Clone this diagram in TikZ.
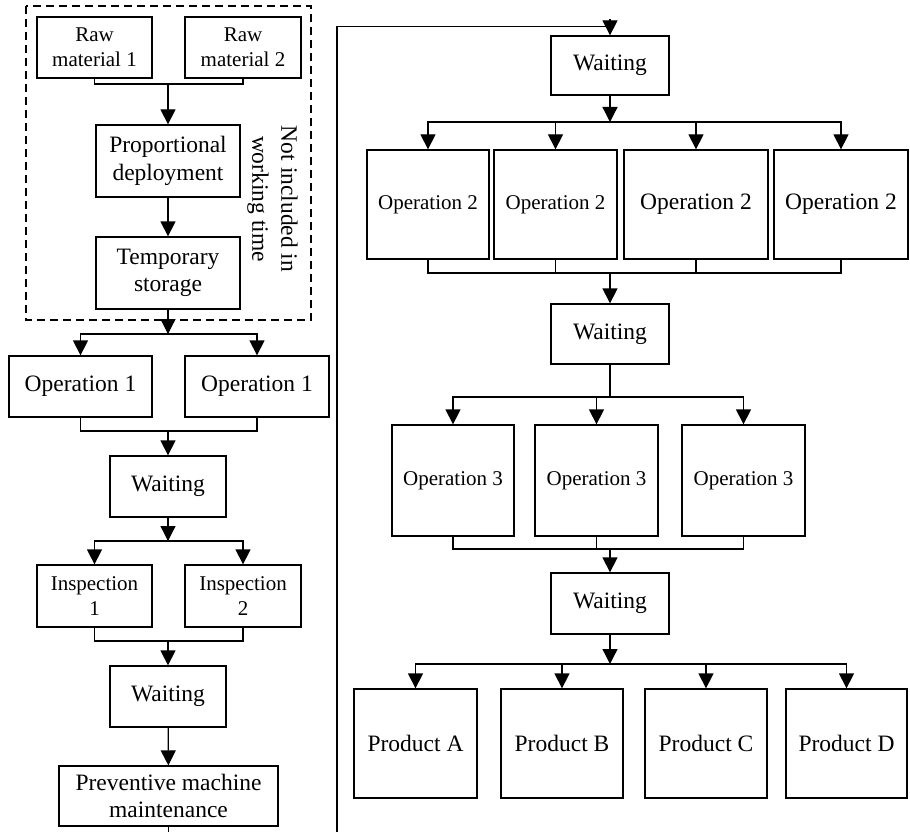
\documentclass[tikz,border=0pt]{standalone}
\usepackage{fontspec}
\setmainfont{Liberation Serif}
\usetikzlibrary{arrows.meta}
\tikzset{
  box/.style={draw, line width=1.3pt, inner sep=0pt, align=center, font=\fontsize{23.5}{27.5}\selectfont},
  narrow/.style={font=\fontsize{21}{25}\selectfont},
  line/.style={line width=1.3pt},
  arr/.style={line, -{Triangle[length=15pt,width=15pt]}},
  frame/.style={line width=1.1pt, dash pattern=on 8pt off 5pt}
}
\begin{document}
\begin{tikzpicture}[x=1pt, y=-1pt]
\path[fill=white] (0,0) rectangle (910,832);
\useasboundingbox (0,0) rectangle (910,832);

\node[box, narrow, minimum width=115, minimum height=61] (rm1) at (94.5,47.5) {Raw\\material 1};
\node[box, narrow, minimum width=116, minimum height=61] (rm2) at (243,47.5) {Raw\\material 2};
\node[box, minimum width=144, minimum height=72] (pd) at (168,161) {Proportional\\deployment};
\node[box, minimum width=144, minimum height=72] (ts) at (168,273) {Temporary\\storage};
\node[rotate=-90, align=center, font=\fontsize{23.5}{29}\selectfont] (note) at (272.5,199) {Not included in\\working time};
\draw[frame] (26,6) rectangle (311,320);
\node[box, minimum width=143, minimum height=61] (op1a) at (80.5,386.5) {Operation 1};
\node[box, minimum width=144, minimum height=61] (op1b) at (257,386.5) {Operation 1};
\node[box, minimum width=116, minimum height=61] (w1) at (168,486.5) {Waiting};
\node[box, narrow, minimum width=115, minimum height=62] (ins1) at (94.5,596) {Inspection\\1};
\node[box, narrow, minimum width=116, minimum height=62] (ins2) at (243,596) {Inspection\\2};
\node[box, minimum width=116, minimum height=61] (w2) at (168,696.5) {Waiting};
\node[box, minimum width=219, minimum height=60] (pm) at (168.5,796) {Preventive machine\\maintenance};

\node[box, minimum width=118, minimum height=59] (rw1) at (610,65.5) {Waiting};
\node[box, narrow, minimum width=122, minimum height=109] (o2a) at (428,204.5) {Operation 2};
\node[box, narrow, minimum width=123, minimum height=109] (o2b) at (555.5,204.5) {Operation 2};
\node[box, minimum width=144, minimum height=109] (o2c) at (696,204.5) {Operation 2};
\node[box, minimum width=134, minimum height=109] (o2d) at (841,204.5) {Operation 2};
\node[box, minimum width=118, minimum height=60] (rw2) at (610,334) {Waiting};
\node[box, narrow, minimum width=122, minimum height=111] (o3a) at (453,480.5) {Operation 3};
\node[box, narrow, minimum width=123, minimum height=111] (o3b) at (596.5,480.5) {Operation 3};
\node[box, narrow, minimum width=123, minimum height=111] (o3c) at (743.5,480.5) {Operation 3};
\node[box, minimum width=118, minimum height=61] (rw3) at (610,603.5) {Waiting};
\node[box, minimum width=123, minimum height=109] (pA) at (415.5,743.5) {Product A};
\node[box, minimum width=122, minimum height=109] (pB) at (562,743.5) {Product B};
\node[box, minimum width=122, minimum height=109] (pC) at (706,743.5) {Product C};
\node[box, minimum width=121, minimum height=109] (pD) at (846.5,743.5) {Product D};

\coordinate (m0) at (168,84);
\coordinate (s1) at (168,334);
\coordinate (m1) at (168,431);
\coordinate (s2) at (168,541);
\coordinate (m2) at (168,641);
\coordinate (loop) at (337,860);
\coordinate (feed) at ([yshift=9pt]rw1.north);
\coordinate (s3) at (610,122);
\coordinate (m3) at (610,273);
\coordinate (s4) at (610,397);
\coordinate (m4) at (610,549);
\coordinate (s5) at (610,664);

\draw[line] (rm1.south) |- (m0) -| (rm2.south);
\draw[arr] (m0) -- (pd.north);
\draw[arr] (pd) -- (ts);
\draw[arr] (ts.south) -- (s1);
\draw[arr] (s1) -| (op1a.north);
\draw[arr] (s1) -| (op1b.north);
\draw[line] (op1a.south) |- (m1) -| (op1b.south);
\draw[arr] (m1) -- (w1.north);
\draw[arr] (w1.south) -- (s2);
\draw[arr] (s2) -| (ins1.north);
\draw[arr] (s2) -| (ins2.north);
\draw[line] (ins1.south) |- (m2) -| (ins2.south);
\draw[arr] (m2) -- (w2.north);
\draw[arr] (w2) -- (pm);
\draw[line] (pm.south) |- (loop) |- (feed);
\draw[arr] ([yshift=16pt]rw1.north) -- (rw1.north);

\draw[arr] (rw1.south) -- (s3);
\foreach \b in {o2a,o2b,o2c,o2d}
  \draw[arr] (s3) -| (\b.north);
\draw[line] (o2a.south) |- (m3) -| (o2d.south);
\draw[line] (o2b.south) -- (o2b.south |- m3);
\draw[line] (o2c.south) -- (o2c.south |- m3);
\draw[arr] (m3) -- (rw2.north);
\draw[line] (rw2.south) -- (s4);
\foreach \b in {o3a,o3b,o3c}
  \draw[arr] (s4) -| (\b.north);
\draw[line] (o3a.south) |- (m4) -| (o3c.south);
\draw[line] (o3b.south) -- (o3b.south |- m4);
\draw[arr] (m4) -- (rw3.north);
\draw[arr] (rw3.south) -- (s5);
\foreach \b in {pA,pB,pC,pD}
  \draw[arr] (s5) -| (\b.north);
\end{tikzpicture}
\end{document}
